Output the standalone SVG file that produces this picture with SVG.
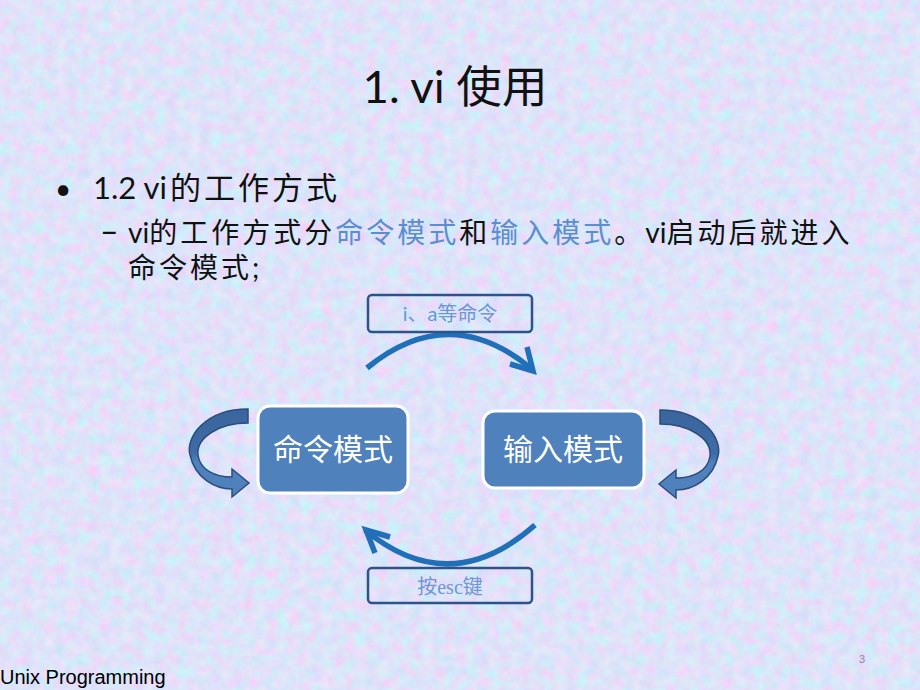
<svg xmlns="http://www.w3.org/2000/svg" width="920" height="690" viewBox="0 0 920 690">
  <defs>
    <filter id="tex" x="0" y="0" width="100%" height="100%">
      <feTurbulence type="fractalNoise" baseFrequency="0.09" numOctaves="3" seed="7"/>
      <feColorMatrix type="matrix" values="0.5 -0.15 0 0 0.56  -0.2 0.3 0 0 0.72  0 0 0.1 0 0.9  0 0 0 0 1"/>
    </filter>
    <linearGradient id="bandGrad" x1="0" y1="0" x2="0" y2="1">
      <stop offset="0" stop-color="#3a659d"/>
      <stop offset="0.5" stop-color="#3f6ca7"/>
      <stop offset="0.6" stop-color="#4f81bd"/>
      <stop offset="1" stop-color="#4f81bd"/>
    </linearGradient>
    <style>
      .cjk { font-family: Lato, "Noto Sans", "Noto Sans CJK SC", sans-serif; fill: #111111; }
      .zh { letter-spacing: 3px; }
      .hl { fill: #5a8ed0; }
      .mode rect { fill: #4f81bd; stroke: #ffffff; stroke-width: 3; }
      .mode text { fill: #ffffff; font-size: 30px; text-anchor: middle; font-family: "Noto Sans CJK SC", sans-serif; }
      .lbl rect { fill: none; stroke: #2d5389; stroke-width: 2.5; }
      .lbl text { fill: #6b97d3; font-size: 20px; text-anchor: middle; }
      .arc { fill: none; stroke: #1f6fb9; stroke-width: 5.5; stroke-linecap: butt; stroke-linejoin: miter; }
      .loop { fill: url(#bandGrad); stroke: #2c4d7c; stroke-width: 1.5; stroke-linejoin: miter; }
    </style>
  </defs>

  <rect x="0" y="0" width="920" height="690" fill="#bac8f0"/>
  <rect x="0" y="0" width="920" height="690" filter="url(#tex)"/>

  <!-- title and bullets -->
  <text x="455" y="103" text-anchor="middle" class="cjk" font-size="44" textLength="185" lengthAdjust="spacingAndGlyphs">1. vi 使用</text>
  <text x="55" y="199" class="cjk" font-size="28">•</text>
  <text x="93" y="199" class="cjk" font-size="31">1.2 vi<tspan x="170" style="letter-spacing:3px">的工作方式</tspan></text>
  <text x="100" y="243" class="cjk" font-size="28"><tspan font-size="32">–</tspan><tspan x="128">vi</tspan><tspan class="zh">的工作方式分</tspan><tspan class="zh hl">命令模式</tspan><tspan class="zh">和</tspan><tspan class="zh hl">输入模式</tspan><tspan class="zh">。</tspan>vi<tspan class="zh">启动后就进入</tspan></text>
  <text x="128" y="278" class="cjk" font-size="28"><tspan class="zh">命令模式</tspan>;</text>

  <!-- connectors -->
  <g id="connectors">
    <path class="arc" d="M367,368 Q450,300 533,370"/>
    <polyline class="arc" points="527,347 533,371 510,364"/>
    <path class="arc" d="M535,525 Q450,600 365,530"/>
    <polyline class="arc" points="390,537 366,530 375,553"/>
    <path class="loop" d="M248,409 C205,409 185,438 190,455 C195,478 215,489 232,489 L232,497 L249,483 L232,469 L232,477 C215,477 200,470 198,455 C196,437 220,423 248,423 Z"/>
    <path class="loop" transform="translate(908,1) scale(-1,1)" d="M248,409 C205,409 185,438 190,455 C195,478 215,489 232,489 L232,497 L249,483 L232,469 L232,477 C215,477 200,470 198,455 C196,437 220,423 248,423 Z"/>
  </g>

  <!-- nodes -->
  <g id="cmd-mode" class="mode">
    <rect x="258" y="406" width="150" height="87" rx="12"/>
    <text x="333" y="460">命令模式</text>
  </g>
  <g id="input-mode" class="mode">
    <rect x="483" y="411" width="161" height="77" rx="12"/>
    <text x="563" y="460">输入模式</text>
  </g>
  <g id="label-ia" class="lbl">
    <rect x="368" y="295" width="164" height="37" rx="4"/>
    <text x="450" y="321" font-family="Lato, 'Noto Sans CJK SC', sans-serif">i、a等命令</text>
  </g>
  <g id="label-esc" class="lbl">
    <rect x="368" y="568" width="164" height="35" rx="4"/>
    <text x="450" y="594" font-family="'Liberation Serif', 'Noto Sans CJK SC', serif">按esc键</text>
  </g>

  <!-- footer -->
  <text x="0" y="684" font-family="'Liberation Sans', Arial, sans-serif" font-size="20" fill="#000000">Unix Programming</text>
  <text x="862" y="663" font-family="'Liberation Sans', Arial, sans-serif" font-size="11" fill="#8a8a9a" text-anchor="middle">3</text>
</svg>
